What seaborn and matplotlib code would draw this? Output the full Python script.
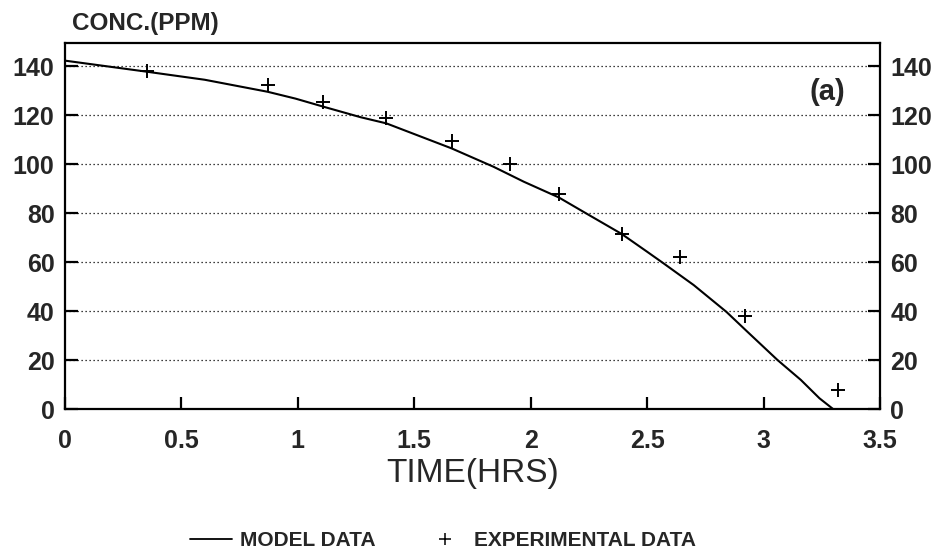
import matplotlib
matplotlib.use("Agg")
import matplotlib.pyplot as plt
from matplotlib.lines import Line2D
import seaborn as sns
import pandas as pd

# Model prediction: concentration (ppm) vs time (hours)
model_time = [0.00, 0.35, 0.60, 0.87, 0.99, 1.11, 1.27, 1.38, 1.66, 1.84, 1.97, 2.12, 2.25,
              2.39, 2.50, 2.57, 2.70, 2.84, 2.93, 3.06, 3.16, 3.24, 3.30]
model_conc = [142.3, 137.8, 134.5, 129.6, 126.8, 123.5, 119.2, 116.7, 106.5, 99.0, 92.9, 86.5, 79.3,
              71.6, 64.3, 59.6, 50.7, 39.8, 31.7, 20.1, 12.0, 4.5, 0.0]

# Measured concentrations
exp_time = [0.35, 0.87, 1.11, 1.38, 1.66, 1.91, 2.12, 2.39, 2.64, 2.92, 3.32]
exp_conc = [138.0, 132.5, 125.5, 119.0, 109.5, 100.0, 88.0, 71.5, 62.0, 38.0, 8.0]

x_ticks = [0, 0.5, 1, 1.5, 2, 2.5, 3, 3.5]
x_tick_labels = ["0", "0.5", "1", "1.5", "2", "2.5", "3", "3.5"]
y_ticks = [0, 20, 40, 60, 80, 100, 120, 140]

model_df = pd.DataFrame({"time": model_time, "conc": model_conc})
exp_df = pd.DataFrame({"time": exp_time, "conc": exp_conc})

sns.set_theme(style="white")
plt.rcParams["font.family"] = ["Liberation Sans", "DejaVu Sans"]

fig = plt.figure(figsize=(9.48, 5.59), dpi=100)
ax = fig.add_axes([65 / 948, 1 - 409.3 / 559, 815 / 948, 366.3 / 559])

sns.lineplot(data=model_df, x="time", y="conc", ax=ax, color="black",
             linewidth=1.5, sort=False, estimator=None)
sns.scatterplot(data=exp_df, x="time", y="conc", ax=ax, marker="+", s=110,
                color="black", linewidth=1.4)

ax.set_xlim(0, 3.5)
ax.set_ylim(0, 149.5)
ax.set_xticks(x_ticks)
ax.set_xticklabels(x_tick_labels)
ax.set_yticks(y_ticks)

for y in y_ticks[1:]:
    ax.axhline(y, color="black", linewidth=0.9, linestyle=(0, (1, 2.2)), zorder=0)

ax.tick_params(axis="both", direction="in", length=9, width=1.6, color="black",
               labelsize=18)
ax.tick_params(axis="y", left=True, right=True, labelleft=True, labelright=True,
               pad=7.5)
ax.tick_params(axis="x", bottom=True, top=False, pad=14)
for lab in ax.get_xticklabels():
    lab.set_fontweight("bold")
for tick in ax.yaxis.get_major_ticks():
    tick.label1.set_fontweight("bold")
    tick.label2.set_fontweight("bold")
    tick.label2.set_fontsize(18)

for side in ["left", "right", "bottom", "top"]:
    ax.spines[side].set_visible(True)
    ax.spines[side].set_color("black")
    ax.spines[side].set_linewidth(1.6)

ax.set_xlabel("TIME(HRS)", fontsize=24, labelpad=4)
ax.set_ylabel("")
ax.text(0.0086, 1.035, "CONC.(PPM)", transform=ax.transAxes, fontsize=17.5,
        fontweight="bold", ha="left", va="baseline")
ax.text(0.957, 0.866, "(a)", transform=ax.transAxes, fontsize=21,
        fontweight="bold", ha="right", va="center")

handles = [Line2D([0], [0], color="black", linewidth=1.3),
           Line2D([0], [0], color="black", marker="+", linestyle="none",
                  markersize=8, markeredgewidth=1.1)]
fig.legend(handles, ["MODEL DATA", "EXPERIMENTAL DATA"], loc="center",
           bbox_to_anchor=(443 / 948, 1 - 541 / 559), ncol=2, frameon=False,
           prop={"size": 15, "weight": "bold"}, handlelength=2.0,
           handletextpad=0.4, columnspacing=2.3)

fig.savefig("out.png", dpi=100)
